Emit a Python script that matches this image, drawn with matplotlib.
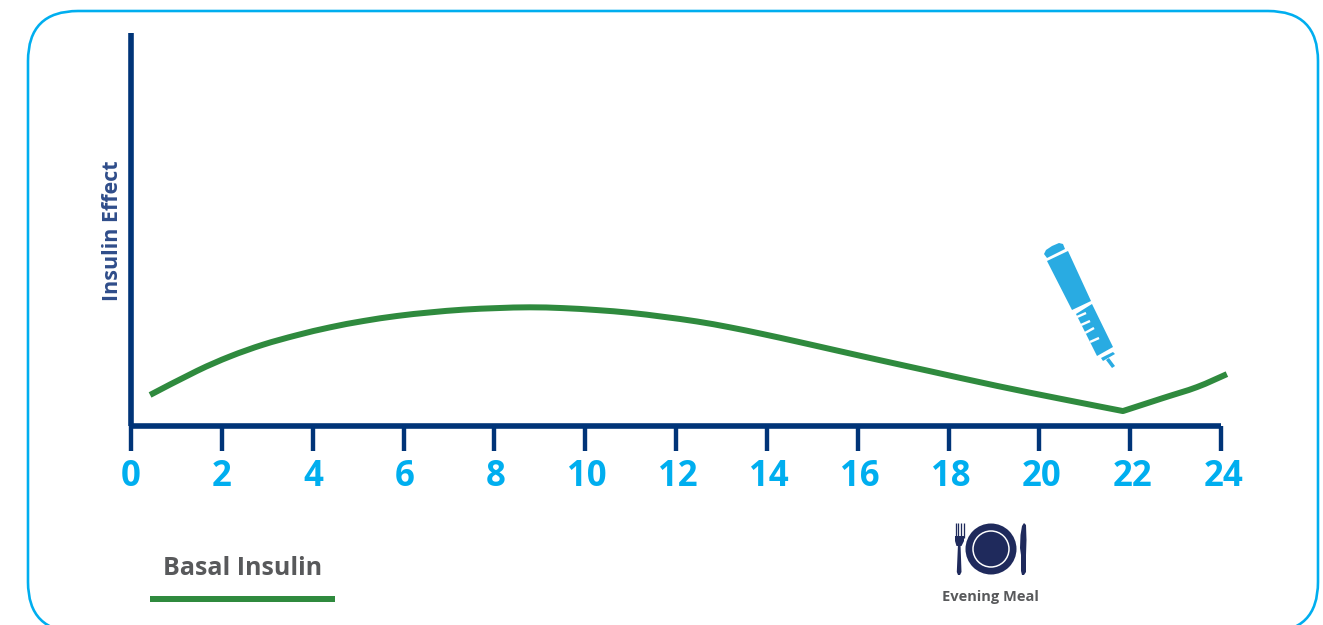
import matplotlib
matplotlib.use("Agg")
import matplotlib.pyplot as plt
import matplotlib.transforms as mtrans
from matplotlib.patches import Circle, FancyBboxPatch, PathPatch, Polygon
from matplotlib.path import Path

# Basal insulin action profile over a 24 hour day
hours = [0.42, 1.45, 2.18, 2.91, 3.65, 4.38, 5.11, 5.86, 6.58, 7.31, 8.06, 8.78,
         9.51, 10.26, 10.99, 11.71, 12.46, 13.19, 13.91, 14.66, 15.39, 16.12,
         16.86, 17.59, 19.07, 20.52, 21.84, 22.72, 23.47, 24.13]
effect = [7.9, 14.0, 17.7, 20.7, 23.1, 25.1, 26.7, 28.0, 28.9, 29.6, 30.0, 30.2,
          30.0, 29.5, 28.8, 27.8, 26.6, 25.1, 23.4, 21.5, 19.6, 17.7,
          15.8, 13.95, 10.2, 6.8, 3.8, 7.1, 9.9, 13.2]
injection_hour = 21.84
hour_ticks = list(range(0, 25, 2))
series_name = "Basal Insulin"
y_title = "Insulin Effect"
meal_name = "Evening Meal"

NAVY = "#003478"
SKY = "#00aeef"
GREEN = "#2f8a3e"
PEN = "#29abe2"
PLATE = "#1f2a5c"
GREY = "#58595b"

plt.rcParams["font.family"] = ["Open Sans", "DejaVu Sans"]
W, H = 1323, 625
PX = 72 / 100  # points per pixel at 100 dpi
fig = plt.figure(figsize=(W / 100, H / 100), dpi=100, facecolor="white")

# Rounded outer frame; it runs past the lower figure edge
frame = fig.add_axes([0, 0, 1, 1], zorder=0)
frame.set_xlim(0, W)
frame.set_ylim(0, H)
frame.axis("off")
frame.add_patch(FancyBboxPatch((28, -7), 1290, 621,
                               boxstyle="round,pad=0,rounding_size=50",
                               fc="none", ec=SKY, lw=2.6 * PX))

# Full-figure layer in pixel units for the legend and icons
deco = fig.add_axes([0, 0, 1, 1], zorder=1)
deco.set_xlim(0, W)
deco.set_ylim(H, 0)
deco.axis("off")

# Main chart
ax = fig.add_axes([131 / W, (H - 426) / H, 1090 / W, 393 / H], zorder=2)
ax.patch.set_alpha(0)
ax.set_xlim(0, 24)
ax.set_ylim(0, 100)
for side in ("top", "right"):
    ax.spines[side].set_visible(False)
for side in ("left", "bottom"):
    ax.spines[side].set_color(NAVY)
    ax.spines[side].set_linewidth(5.6 * PX)
    ax.spines[side].set_capstyle("butt")
ax.set_yticks([])
ax.set_xticks(hour_ticks)
ax.tick_params(axis="x", length=25 * PX, width=4.4 * PX, color=NAVY,
               labelcolor=SKY, labelsize=25, pad=8.5 * PX)
# Labels drift slightly to the right of their ticks along the axis
for i, lab in enumerate(ax.get_xticklabels()):
    lab.set_fontweight("bold")
    drift = mtrans.ScaledTranslation(i * 0.25 / 100, 0, fig.dpi_scale_trans)
    lab.set_transform(lab.get_transform() + drift)


def smooth_path(xs, ys):
    """Catmull-Rom curve through the points, as cubic Bezier segments."""
    pts = list(zip(xs, ys))
    verts = [pts[0]]
    codes = [Path.MOVETO]
    for i in range(len(pts) - 1):
        p0 = pts[max(i - 1, 0)]
        p1, p2 = pts[i], pts[i + 1]
        p3 = pts[min(i + 2, len(pts) - 1)]
        c1 = (p1[0] + (p2[0] - p0[0]) / 6, p1[1] + (p2[1] - p0[1]) / 6)
        c2 = (p2[0] - (p3[0] - p1[0]) / 6, p2[1] - (p3[1] - p1[1]) / 6)
        verts += [c1, c2, p2]
        codes += [Path.CURVE4] * 3
    return verts, codes


# The curve has a sharp corner at the injection, so each side is smoothed on its own
k = hours.index(injection_hour)
v1, c1 = smooth_path(hours[:k + 1], effect[:k + 1])
v2, c2 = smooth_path(hours[k:], effect[k:])
ax.add_patch(PathPatch(Path(v1 + v2[1:], c1 + c2[1:]), fc="none", ec=GREEN,
                       lw=6 * PX, capstyle="butt", joinstyle="round",
                       clip_on=False, zorder=3))

deco.text(113, 231, y_title, rotation=90, ha="center", va="center",
          color="#2f4d8a", fontsize=15.5, fontweight="bold")

# Legend entry
deco.text(242.5, 568.5, series_name, ha="center", va="center",
          color=GREY, fontsize=18, fontweight="bold")
deco.plot([150, 335], [599, 599], color=GREEN, lw=6 * PX, solid_capstyle="butt")


def poly(points, color):
    deco.add_patch(Polygon(points, closed=True, fc=color, ec="none"))


# Insulin pen icon
poly([(1044, 254), (1046, 250), (1052, 246), (1059, 243), (1063, 244), (1065, 249),
      (1047, 258)], PEN)
poly([(1047, 261), (1068, 251), (1091, 301), (1072, 310)], PEN)
poly([(1076, 314), (1092, 304), (1113, 347), (1097, 356)], PEN)
poly([(1101, 358), (1113, 352), (1115, 354), (1103, 361)], PEN)
poly([(1106, 360), (1109, 358), (1115, 366), (1112, 368)], PEN)
for x0, y0, x1, y1 in [(1077, 317, 1086, 313), (1081, 325, 1090, 321),
                       (1085, 333, 1094, 328), (1090, 342, 1099, 338)]:
    deco.plot([x0, x1], [y0, y1], color="white", lw=2.4 * PX, solid_capstyle="butt")

# Plate, fork and knife icon
deco.add_patch(Circle((991, 549), 25.5, fc=PLATE, ec="none"))
deco.add_patch(Circle((991, 549), 18, fc="none", ec="white", lw=1.5 * PX))
for x in (955.5, 958.2, 960.9, 963.5):
    deco.plot([x, x], [523, 538], color=PLATE, lw=1.3 * PX, solid_capstyle="butt")
poly([(955, 536), (964, 536), (964, 541), (961.5, 546), (956.5, 546), (955, 541)], PLATE)
poly([(958, 544), (960.5, 544), (961.5, 572), (960, 575), (958, 575), (956.8, 572)], PLATE)
poly([(1024, 523), (1026, 525), (1026.5, 540), (1026, 555), (1026, 572), (1024, 575),
      (1022, 575), (1021, 571), (1021, 555), (1020, 548), (1020.5, 535), (1022, 526)], PLATE)
deco.text(990, 597, meal_name, ha="center", va="center",
          color=GREY, fontsize=10.5, fontweight="bold")

fig.savefig("out.png", dpi=100, facecolor="white")
